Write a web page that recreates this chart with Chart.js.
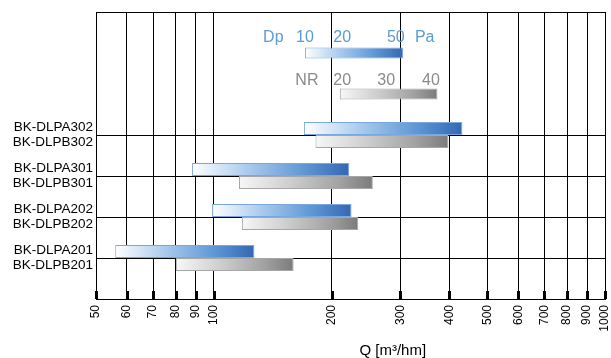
<!DOCTYPE html>
<html>
<head>
<meta charset="utf-8">
<script src="https://cdn.jsdelivr.net/npm/chart.js@4"></script>
<style>
  html, body { margin: 0; padding: 0; background: #fff; }
  #wrap { width: 611px; height: 358px; }
</style>
</head>
<body>
<div id="wrap"><canvas id="chart"></canvas></div>
<script>
// Q axis ticks [m3/hm]
const qTicks = [50, 60, 70, 80, 90, 100, 200, 300, 400, 500, 600, 700, 800, 900, 1000];

// models (A = blue, B = grey), top to bottom
const modelsA = ['BK-DLPA302', 'BK-DLPA301', 'BK-DLPA202', 'BK-DLPA201'];
const modelsB = ['BK-DLPB302', 'BK-DLPB301', 'BK-DLPB202', 'BK-DLPB201'];
const rangeA = [[170, 432], [88, 222], [99, 225], [56, 127]];
const rangeB = [[182, 398], [116, 255], [118, 234], [80, 160]];

// key bars
const keyDp = [171, 305];
const keyNR = [210, 373];
const keyDpText = ['Dp', '10', '20', '50', 'Pa'];
const keyDpAt = [142, 171, 213, 292, 346];
const keyNRText = ['NR', '20', '30', '40'];
const keyNRAt = [173, 213, 276, 359];

// rows: blank, Dp key, NR key, 4 model pairs, blank
const rowLabels = ['', '', ''].concat(modelsA.map((m, i) => [m, modelsB[i]]), ['']);
const keyRows = [1, 2];
const pad = n => Array(n).fill(null);
const dataA = pad(3).concat(rangeA, pad(1));
const dataB = pad(3).concat(rangeB, pad(1));
const dataKeyDp = rowLabels.map((_, i) => i === 1 ? keyDp : null);
const dataKeyNR = rowLabels.map((_, i) => i === 2 ? keyNR : null);

const FONT = "Arial, 'Liberation Sans', sans-serif";

function gradientFill(stops, fallback) {
    return (c) => {
        const raw = c.raw;
        const x = c.chart.scales.x;
        if (!raw || !x) return fallback;
        const x0 = x.getPixelForValue(raw[0]);
        const x1 = x.getPixelForValue(raw[1]);
        if (!isFinite(x0) || !isFinite(x1)) return fallback;
        const g = c.chart.ctx.createLinearGradient(x0, 0, x1, 0);
        stops.forEach(([p, col]) => g.addColorStop(p, col));
        return g;
    };
}
const blueStops = [[0, '#ffffff'], [0.35, '#aacbee'], [0.7, '#6199d6'], [1, '#3467b4']];
const greyStops = [[0, '#f7f7f7'], [0.4, '#cccccc'], [0.75, '#a2a2a2'], [1, '#7b7b7b']];

const extras = {
    id: 'extras',
    afterDraw(chart) {
        const { ctx, chartArea, scales: { x } } = chart;
        ctx.save();
        // small tick marks standing on the Q axis
        ctx.fillStyle = '#000';
        x.ticks.forEach(t => {
            const px = Math.round(x.getPixelForValue(t.value));
            ctx.fillRect(px - 1, chartArea.bottom - 8, 3, 8);
        });
        // key labels above the key bars
        const keyText = (dsIndex, row, texts, at, color, gap) => {
            const el = chart.getDatasetMeta(dsIndex).data[row];
            const top = el.y - el.height / 2;
            ctx.fillStyle = color;
            ctx.font = '16px ' + FONT;
            ctx.textAlign = 'center';
            ctx.textBaseline = 'alphabetic';
            texts.forEach((t, i) => ctx.fillText(t, x.getPixelForValue(at[i]), top - gap));
        };
        keyText(2, 1, keyDpText, keyDpAt, '#5b9bd5', 6);
        keyText(3, 2, keyNRText, keyNRAt, '#8a8a8a', 4);
        // axis title
        ctx.fillStyle = '#000';
        ctx.font = '15px ' + FONT;
        ctx.textAlign = 'center';
        ctx.fillText('Q [m\u00b3/hm]', chartArea.left + (chartArea.right - chartArea.left) * 0.583, 355);
        ctx.restore();
    }
};

new Chart(document.getElementById('chart'), {
    type: 'bar',
    data: {
        labels: rowLabels,
        datasets: [
            { label: 'A', data: dataA, backgroundColor: gradientFill(blueStops, '#6199d6'),
              borderColor: '#7aa7dd', borderWidth: 1, borderSkipped: false },
            { label: 'B', data: dataB, backgroundColor: gradientFill(greyStops, '#a2a2a2'),
              borderColor: '#a6a6a6', borderWidth: 1, borderSkipped: false },
            { label: 'Dp', data: dataKeyDp, grouped: false, barPercentage: 0.42,
              backgroundColor: gradientFill(blueStops, '#6199d6'),
              borderColor: '#7aa7dd', borderWidth: 1, borderSkipped: false },
            { label: 'NR', data: dataKeyNR, grouped: false, barPercentage: 0.42,
              backgroundColor: gradientFill(greyStops, '#a2a2a2'),
              borderColor: '#a6a6a6', borderWidth: 1, borderSkipped: false }
        ]
    },
    options: {
        indexAxis: 'y',
        responsive: true,
        maintainAspectRatio: false,
        animation: false,
        categoryPercentage: 0.634,
        barPercentage: 1,
        layout: { padding: { top: 12, right: 6, bottom: 0, left: 0 } },
        plugins: { legend: { display: false }, tooltip: { enabled: false } },
        scales: {
            x: {
                type: 'logarithmic',
                min: 50,
                max: 1000,
                afterBuildTicks: (s) => { s.ticks = qTicks.map(v => ({ value: v })); },
                afterFit: (s) => { s.height = 59; s.paddingLeft = 0; s.paddingRight = 0; },
                grid: { color: '#000', lineWidth: 1, drawTicks: false },
                border: { color: '#000', width: 1 },
                ticks: {
                    autoSkip: false, maxRotation: 90, minRotation: 90, padding: 6,
                    color: '#000', font: { family: FONT, size: 12 },
                    callback: (v) => String(v)
                }
            },
            y: {
                type: 'category',
                offset: false,
                afterFit: (s) => { s.width = 96; s.paddingTop = 0; s.paddingBottom = 0; },
                grid: {
                    offset: false, lineWidth: 1, drawTicks: false,
                    color: (c) => keyRows.includes(c.index) ? 'rgba(0,0,0,0)' : '#000'
                },
                border: { color: '#000', width: 1 },
                ticks: {
                    autoSkip: false, padding: 3, color: '#000',
                    font: { family: FONT, size: 13.5, lineHeight: 1.15 }
                }
            }
        }
    },
    plugins: [extras]
});
</script>
</body>
</html>
